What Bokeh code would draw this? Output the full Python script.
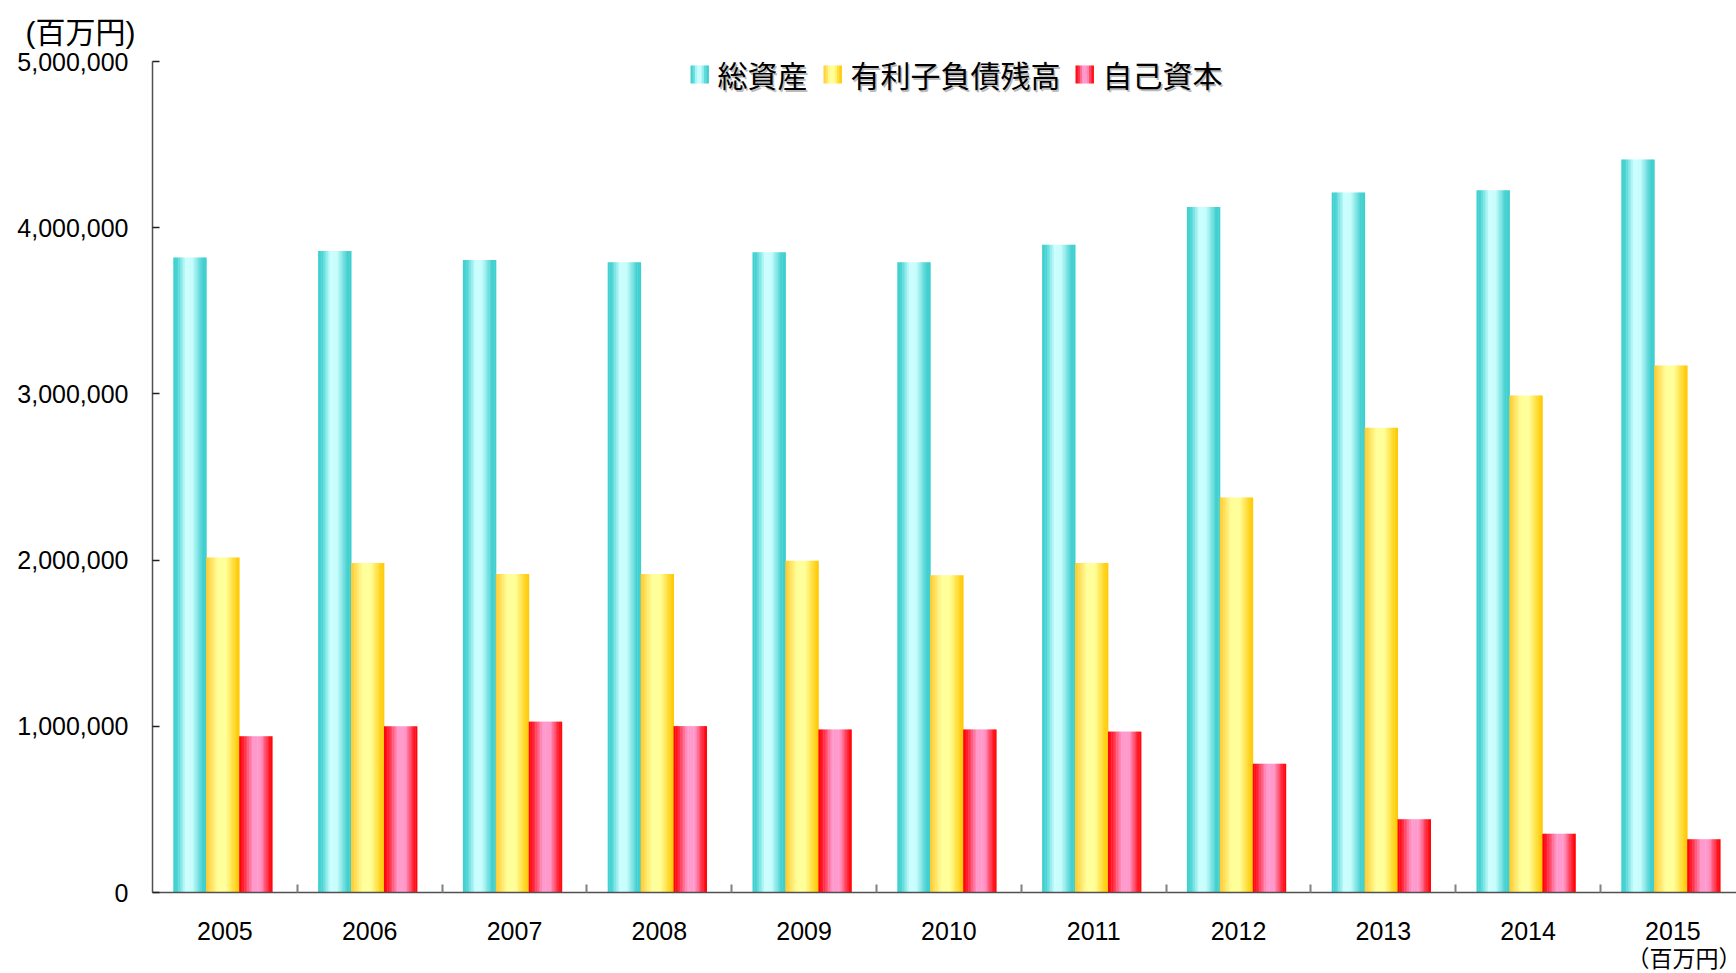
import numpy as np
from bokeh.plotting import figure
from bokeh.models import ColumnDataSource, FixedTicker, NumeralTickFormatter, Range1d, Label, Title
from bokeh.embed import file_html
from bokeh.resources import INLINE

# ---------------- data ----------------
years = ["2005", "2006", "2007", "2008", "2009", "2010", "2011", "2012", "2013", "2014", "2015"]
total_assets = [3820000, 3860000, 3805000, 3792000, 3852000, 3792000, 3898000, 4125000, 4212000, 4226000, 4410000]
interest_debt = [2016000, 1983000, 1916000, 1916000, 1996000, 1909000, 1983000, 2376000, 2797000, 2991000, 3171000]
equity = [940000, 1000000, 1028000, 1001000, 981000, 981000, 968000, 774000, 441000, 354000, 320000]
series_names = ["総資産", "有利子負債残高", "自己資本"]
y_ticks = [0, 1000000, 2000000, 3000000, 4000000, 5000000]
unit_label = "(百万円)"
unit_note = "（百万円）"

# ---------------- style ----------------
gradients = [
    [(0.0, "#3ECFCF"), (0.12, "#4AD3D3"), (0.38, "#CCFFFF"), (0.58, "#C6FCFC"), (0.88, "#44D0D0"), (1.0, "#3ECFCF")],
    [(0.0, "#FFC82A"), (0.35, "#FFFF99"), (0.6, "#FFFF99"), (0.9, "#FFD21A"), (1.0, "#FFC800")],
    [(0.0, "#FF0000"), (0.12, "#FF1A2A"), (0.42, "#FF99CC"), (0.65, "#FF99CC"), (0.9, "#FF1A2A"), (1.0, "#FF0000")],
]
N_STRIPS = 20

def grad_color(stops, t):
    for (t0, c0), (t1, c1) in zip(stops[:-1], stops[1:]):
        if t0 <= t <= t1:
            f = 0 if t1 == t0 else (t - t0) / (t1 - t0)
            a = [int(c0[i:i + 2], 16) for i in (1, 3, 5)]
            b = [int(c1[i:i + 2], 16) for i in (1, 3, 5)]
            return "#%02x%02x%02x" % tuple(round(a[j] + (b[j] - a[j]) * f) for j in range(3))
    return stops[-1][1]

W, H = 1736, 973
MB_L, MB_R, MB_T, MB_B = 152, 0, 61, 81
CAT_PX = 144.8
frame_w = W - MB_L - MB_R
frame_h = H - MB_T - MB_B
x_end = frame_w / CAT_PX
y_end = 5000000

p = figure(width=W, height=H, output_backend="svg", toolbar_location=None,
           x_range=Range1d(0, x_end), y_range=Range1d(0, y_end),
           min_border_left=MB_L, min_border_right=MB_R, min_border_top=MB_T, min_border_bottom=MB_B)
p.outline_line_color = None
p.xgrid.visible = False
p.ygrid.visible = False
p.background_fill_color = "white"
p.border_fill_color = "white"

# pixel helpers (canvas px -> data) for the legend placement only
PAGE_L = MB_L
PAGE_B = H - MB_B
def px2x(px):
    return (px - PAGE_L) / CAT_PX
def py2y(py):
    return (PAGE_B - py) / frame_h * y_end

# ---------------- bars ----------------
bar_w = 0.228
offsets = [-0.241, -0.014, 0.214]
series = [total_assets, interest_debt, equity]
idx = np.arange(len(years))
for s, vals in enumerate(series):
    for k in range(N_STRIPS):
        t = (k + 0.5) / N_STRIPS
        xs = idx + 0.5 + offsets[s] - bar_w / 2 + t * bar_w
        src = ColumnDataSource(dict(x=xs, top=vals))
        p.vbar(x="x", top="top", bottom=0, width=bar_w / N_STRIPS * 1.25, source=src,
               fill_color=grad_color(gradients[s], t), line_color=None)

# ---------------- axes ----------------
xa = p.xaxis[0]
xa.ticker = FixedTicker(ticks=list(idx + 0.5), minor_ticks=list(range(1, len(years) + 1)))
xa.major_label_overrides = {float(i + 0.5): y for i, y in enumerate(years)}
xa.major_tick_in = 0
xa.major_tick_out = 0
xa.minor_tick_in = 8
xa.minor_tick_out = 0
xa.minor_tick_line_color = "#808080"
xa.minor_tick_line_width = 2
xa.axis_line_color = "#505050"
xa.axis_line_width = 1.5
xa.major_label_text_font = "Liberation Sans"
xa.major_label_text_font_size = "25px"
xa.major_label_text_color = "black"
xa.major_label_standoff = 29

ya = p.yaxis[0]
ya.ticker = FixedTicker(ticks=y_ticks, minor_ticks=[])
ya.formatter = NumeralTickFormatter(format="0,0")
ya.major_tick_in = 7
ya.major_tick_out = 0
ya.major_tick_line_color = "#202020"
ya.major_tick_line_width = 1.5
ya.axis_line_color = "#505050"
ya.axis_line_width = 1.5
ya.major_label_text_font = "Liberation Sans"
ya.major_label_text_font_size = "25px"
ya.major_label_text_color = "black"
ya.major_label_standoff = 24

# ---------------- unit texts (titles outside the frame) ----------------
p.add_layout(Title(text=unit_label, align="left", offset=-127, text_font="Liberation Sans, Noto Sans CJK JP",
                   text_font_size="30px", text_font_style="normal", text_color="black", standoff=26), "above")
p.add_layout(Title(text=unit_note, align="right", offset=-5, text_font="Noto Sans CJK JP",
                   text_font_size="23px", text_font_style="normal", text_color="black", standoff=-10), "below")

# ---------------- legend ----------------
leg_sq_x = [690, 823, 1075]
leg_txt_x = [717, 850, 1102]
sq_w, sq_top, sq_bot = 18, 65, 83
for s in range(3):
    n = 8
    for k in range(n):
        t = (k + 0.5) / n
        l = leg_sq_x[s] + k * sq_w / n
        r = l + sq_w / n * 1.2
        p.quad(left=px2x(l), right=px2x(r), top=py2y(sq_top), bottom=py2y(sq_bot),
               fill_color=grad_color(gradients[s], t), line_color=None)
    p.add_layout(Label(x=px2x(leg_txt_x[s] + 1.5), y=py2y(75), text=series_names[s], text_font="Noto Sans CJK JP",
                       text_font_size="30px", text_align="left", text_baseline="middle", text_color="#bbbbbb"))
    p.add_layout(Label(x=px2x(leg_txt_x[s]), y=py2y(73.5), text=series_names[s], text_font="Noto Sans CJK JP",
                       text_font_size="30px", text_align="left", text_baseline="middle", text_color="black"))

open("out.html", "w").write(file_html(p, INLINE))
